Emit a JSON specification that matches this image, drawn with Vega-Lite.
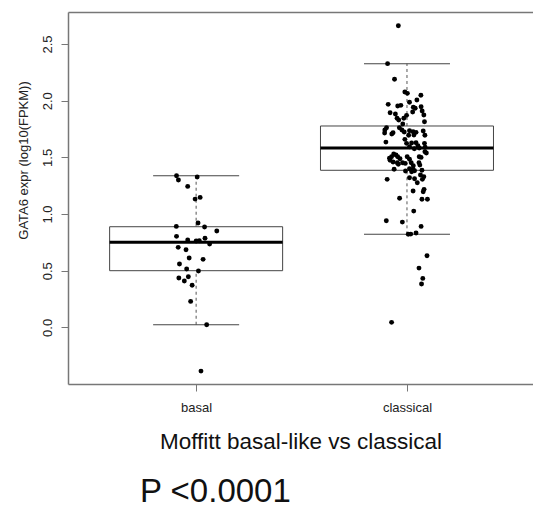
{
  "$schema": "https://vega.github.io/schema/vega-lite/v6.json",
  "width": 465,
  "height": 372,
  "autosize": {"type": "none"},
  "padding": {"left": 68, "top": 12, "right": 0, "bottom": 123},
  "background": "white",
  "title": {"text": "P <0.0001", "orient": "bottom", "anchor": "start", "frame": "group", "fontSize": 33, "font": "Liberation Sans", "fontWeight": "normal", "color": "#111", "baseline": "alphabetic", "offset": 49, "dx": 72},
  "config": {
    "view": {"stroke": null},
    "axis": {"grid": false, "labelFont": "Liberation Sans", "titleFont": "Liberation Sans", "labelFontSize": 13, "labelColor": "#222", "titleColor": "#222", "titleFontWeight": "normal", "tickColor": "#777", "domainColor": "#777", "domainWidth": 1.5, "tickWidth": 1, "tickSize": 7, "labelOverlap": false, "labelFlush": false}
  },
  "datasets": {
    "stats": [
      {"group": "basal", "pos": 1, "lo": 0.023, "q1": 0.500, "med": 0.750, "q3": 0.888, "hi": 1.338},
      {"group": "classical", "pos": 2, "lo": 0.821, "q1": 1.386, "med": 1.583, "q3": 1.777, "hi": 2.327}
    ],
    "pts": [
      {"group": "basal", "x": 0.907, "expr": 1.338},
      {"group": "basal", "x": 0.916, "expr": 1.300},
      {"group": "basal", "x": 1.005, "expr": 1.327},
      {"group": "basal", "x": 0.960, "expr": 1.244},
      {"group": "basal", "x": 0.995, "expr": 1.132},
      {"group": "basal", "x": 1.019, "expr": 1.147},
      {"group": "basal", "x": 1.009, "expr": 0.921},
      {"group": "basal", "x": 0.906, "expr": 0.891},
      {"group": "basal", "x": 1.040, "expr": 0.885},
      {"group": "basal", "x": 1.098, "expr": 0.850},
      {"group": "basal", "x": 0.907, "expr": 0.803},
      {"group": "basal", "x": 0.960, "expr": 0.771},
      {"group": "basal", "x": 1.000, "expr": 0.762},
      {"group": "basal", "x": 1.015, "expr": 0.764},
      {"group": "basal", "x": 1.042, "expr": 0.786},
      {"group": "basal", "x": 1.064, "expr": 0.735},
      {"group": "basal", "x": 0.915, "expr": 0.706},
      {"group": "basal", "x": 0.952, "expr": 0.685},
      {"group": "basal", "x": 0.967, "expr": 0.612},
      {"group": "basal", "x": 1.033, "expr": 0.600},
      {"group": "basal", "x": 0.921, "expr": 0.559},
      {"group": "basal", "x": 0.955, "expr": 0.515},
      {"group": "basal", "x": 1.011, "expr": 0.497},
      {"group": "basal", "x": 0.918, "expr": 0.435},
      {"group": "basal", "x": 0.944, "expr": 0.409},
      {"group": "basal", "x": 0.963, "expr": 0.447},
      {"group": "basal", "x": 0.981, "expr": 0.371},
      {"group": "basal", "x": 0.974, "expr": 0.229},
      {"group": "basal", "x": 1.050, "expr": 0.023},
      {"group": "basal", "x": 1.023, "expr": -0.386},
      {"group": "classical", "x": 1.959, "expr": 2.662},
      {"group": "classical", "x": 1.908, "expr": 2.327},
      {"group": "classical", "x": 1.941, "expr": 2.189},
      {"group": "classical", "x": 1.990, "expr": 2.077},
      {"group": "classical", "x": 2.002, "expr": 2.065},
      {"group": "classical", "x": 2.066, "expr": 2.048},
      {"group": "classical", "x": 2.047, "expr": 2.006},
      {"group": "classical", "x": 1.911, "expr": 1.968},
      {"group": "classical", "x": 1.956, "expr": 1.953},
      {"group": "classical", "x": 1.971, "expr": 1.959},
      {"group": "classical", "x": 2.012, "expr": 1.986},
      {"group": "classical", "x": 2.030, "expr": 1.942},
      {"group": "classical", "x": 2.067, "expr": 1.947},
      {"group": "classical", "x": 2.072, "expr": 1.909},
      {"group": "classical", "x": 2.080, "expr": 1.874},
      {"group": "classical", "x": 1.920, "expr": 1.894},
      {"group": "classical", "x": 1.945, "expr": 1.883},
      {"group": "classical", "x": 1.998, "expr": 1.871},
      {"group": "classical", "x": 1.985, "expr": 1.845},
      {"group": "classical", "x": 1.961, "expr": 1.830},
      {"group": "classical", "x": 1.953, "expr": 1.845},
      {"group": "classical", "x": 2.027, "expr": 1.900},
      {"group": "classical", "x": 2.039, "expr": 1.933},
      {"group": "classical", "x": 2.083, "expr": 1.815},
      {"group": "classical", "x": 1.980, "expr": 1.794},
      {"group": "classical", "x": 1.903, "expr": 1.762},
      {"group": "classical", "x": 1.895, "expr": 1.741},
      {"group": "classical", "x": 1.894, "expr": 1.715},
      {"group": "classical", "x": 1.934, "expr": 1.718},
      {"group": "classical", "x": 1.928, "expr": 1.706},
      {"group": "classical", "x": 1.964, "expr": 1.762},
      {"group": "classical", "x": 1.987, "expr": 1.724},
      {"group": "classical", "x": 1.976, "expr": 1.741},
      {"group": "classical", "x": 2.012, "expr": 1.735},
      {"group": "classical", "x": 2.029, "expr": 1.726},
      {"group": "classical", "x": 2.043, "expr": 1.721},
      {"group": "classical", "x": 2.033, "expr": 1.697},
      {"group": "classical", "x": 2.077, "expr": 1.733},
      {"group": "classical", "x": 2.085, "expr": 1.695},
      {"group": "classical", "x": 2.008, "expr": 1.695},
      {"group": "classical", "x": 1.990, "expr": 1.659},
      {"group": "classical", "x": 1.998, "expr": 1.624},
      {"group": "classical", "x": 1.900, "expr": 1.635},
      {"group": "classical", "x": 2.022, "expr": 1.627},
      {"group": "classical", "x": 2.043, "expr": 1.629},
      {"group": "classical", "x": 2.052, "expr": 1.603},
      {"group": "classical", "x": 2.083, "expr": 1.624},
      {"group": "classical", "x": 2.086, "expr": 1.589},
      {"group": "classical", "x": 2.012, "expr": 1.594},
      {"group": "classical", "x": 2.035, "expr": 1.576},
      {"group": "classical", "x": 2.058, "expr": 1.583},
      {"group": "classical", "x": 2.092, "expr": 1.538},
      {"group": "classical", "x": 2.085, "expr": 1.550},
      {"group": "classical", "x": 1.937, "expr": 1.530},
      {"group": "classical", "x": 1.927, "expr": 1.506},
      {"group": "classical", "x": 1.917, "expr": 1.492},
      {"group": "classical", "x": 1.948, "expr": 1.521},
      {"group": "classical", "x": 1.956, "expr": 1.506},
      {"group": "classical", "x": 1.967, "expr": 1.488},
      {"group": "classical", "x": 2.001, "expr": 1.506},
      {"group": "classical", "x": 2.012, "expr": 1.483},
      {"group": "classical", "x": 2.058, "expr": 1.506},
      {"group": "classical", "x": 2.067, "expr": 1.500},
      {"group": "classical", "x": 1.920, "expr": 1.474},
      {"group": "classical", "x": 1.934, "expr": 1.459},
      {"group": "classical", "x": 1.954, "expr": 1.453},
      {"group": "classical", "x": 1.959, "expr": 1.439},
      {"group": "classical", "x": 1.979, "expr": 1.453},
      {"group": "classical", "x": 1.992, "expr": 1.447},
      {"group": "classical", "x": 2.020, "expr": 1.453},
      {"group": "classical", "x": 2.030, "expr": 1.426},
      {"group": "classical", "x": 2.057, "expr": 1.453},
      {"group": "classical", "x": 2.061, "expr": 1.432},
      {"group": "classical", "x": 2.012, "expr": 1.400},
      {"group": "classical", "x": 2.029, "expr": 1.395},
      {"group": "classical", "x": 2.036, "expr": 1.382},
      {"group": "classical", "x": 2.022, "expr": 1.373},
      {"group": "classical", "x": 1.993, "expr": 1.380},
      {"group": "classical", "x": 1.939, "expr": 1.395},
      {"group": "classical", "x": 2.071, "expr": 1.386},
      {"group": "classical", "x": 2.064, "expr": 1.344},
      {"group": "classical", "x": 2.080, "expr": 1.329},
      {"group": "classical", "x": 2.073, "expr": 1.306},
      {"group": "classical", "x": 1.906, "expr": 1.306},
      {"group": "classical", "x": 2.012, "expr": 1.320},
      {"group": "classical", "x": 2.049, "expr": 1.276},
      {"group": "classical", "x": 2.036, "expr": 1.312},
      {"group": "classical", "x": 2.029, "expr": 1.203},
      {"group": "classical", "x": 2.081, "expr": 1.218},
      {"group": "classical", "x": 2.077, "expr": 1.197},
      {"group": "classical", "x": 2.071, "expr": 1.130},
      {"group": "classical", "x": 2.097, "expr": 1.130},
      {"group": "classical", "x": 1.965, "expr": 1.139},
      {"group": "classical", "x": 2.032, "expr": 1.026},
      {"group": "classical", "x": 1.902, "expr": 0.941},
      {"group": "classical", "x": 1.978, "expr": 0.929},
      {"group": "classical", "x": 2.067, "expr": 0.891},
      {"group": "classical", "x": 2.006, "expr": 0.821},
      {"group": "classical", "x": 2.018, "expr": 0.823},
      {"group": "classical", "x": 2.043, "expr": 0.832},
      {"group": "classical", "x": 2.095, "expr": 0.632},
      {"group": "classical", "x": 2.057, "expr": 0.523},
      {"group": "classical", "x": 2.075, "expr": 0.432},
      {"group": "classical", "x": 2.069, "expr": 0.382},
      {"group": "classical", "x": 1.927, "expr": 0.044}
    ]
  },
  "resolve": {"axis": {"x": "independent"}},
  "layer": [
    {
      "data": {"name": "stats"},
      "mark": {"type": "bar", "size": 173, "fill": "white", "stroke": "#444", "strokeWidth": 1},
      "encoding": {
        "x": {"field": "pos", "type": "quantitative", "scale": {"domain": [0.416, 2.574], "nice": false, "zero": false},
          "axis": {"orient": "bottom", "values": [1, 2], "labelExpr": "datum.value == 1 ? 'basal' : 'classical'", "labelPadding": 10, "title": "Moffitt basal-like vs classical", "titleFontSize": 22.5, "titleColor": "#111", "titleBaseline": "alphabetic", "titleY": 64}},
        "y": {"field": "q1", "type": "quantitative", "title": "GATA6 expr (log10(FPKM))", "scale": {"domain": [-0.5, 2.783], "nice": false, "zero": false},
          "axis": {"values": [0, 0.5, 1, 1.5, 2, 2.5], "format": ".1f", "labelAngle": -90, "labelAlign": "center", "labelBaseline": "alphabetic", "labelPadding": 10, "titleFontSize": 13, "titleColor": "#222", "titleAngle": -90, "titleAlign": "center", "titleBaseline": "alphabetic", "titleX": -41, "titleY": 148}},
        "y2": {"field": "q3"}
      }
    },
    {
      "data": {"name": "stats"},
      "mark": {"type": "rule", "color": "#555", "strokeWidth": 1, "strokeDash": [3, 3]},
      "encoding": {
        "x": {"field": "pos", "type": "quantitative", "scale": {"domain": [0.416, 2.574], "nice": false, "zero": false}, "axis": null},
        "y": {"field": "q3", "type": "quantitative", "title": "GATA6 expr (log10(FPKM))", "scale": {"domain": [-0.5, 2.783], "nice": false, "zero": false}},
        "y2": {"field": "hi"}
      }
    },
    {
      "data": {"name": "stats"},
      "mark": {"type": "rule", "color": "#555", "strokeWidth": 1, "strokeDash": [3, 3]},
      "encoding": {
        "x": {"field": "pos", "type": "quantitative", "scale": {"domain": [0.416, 2.574], "nice": false, "zero": false}, "axis": null},
        "y": {"field": "lo", "type": "quantitative", "title": "GATA6 expr (log10(FPKM))", "scale": {"domain": [-0.5, 2.783], "nice": false, "zero": false}},
        "y2": {"field": "q1"}
      }
    },
    {
      "data": {"name": "stats"},
      "mark": {"type": "tick", "orient": "horizontal", "color": "#444", "opacity": 1, "size": 86, "thickness": 1},
      "encoding": {
        "x": {"field": "pos", "type": "quantitative", "scale": {"domain": [0.416, 2.574], "nice": false, "zero": false}, "axis": null},
        "y": {"field": "hi", "type": "quantitative", "title": "GATA6 expr (log10(FPKM))", "scale": {"domain": [-0.5, 2.783], "nice": false, "zero": false}}
      }
    },
    {
      "data": {"name": "stats"},
      "mark": {"type": "tick", "orient": "horizontal", "color": "#444", "opacity": 1, "size": 86, "thickness": 1},
      "encoding": {
        "x": {"field": "pos", "type": "quantitative", "scale": {"domain": [0.416, 2.574], "nice": false, "zero": false}, "axis": null},
        "y": {"field": "lo", "type": "quantitative", "title": "GATA6 expr (log10(FPKM))", "scale": {"domain": [-0.5, 2.783], "nice": false, "zero": false}}
      }
    },
    {
      "data": {"name": "stats"},
      "mark": {"type": "tick", "orient": "horizontal", "color": "#000", "opacity": 1, "size": 173, "thickness": 3},
      "encoding": {
        "x": {"field": "pos", "type": "quantitative", "scale": {"domain": [0.416, 2.574], "nice": false, "zero": false}, "axis": null},
        "y": {"field": "med", "type": "quantitative", "title": "GATA6 expr (log10(FPKM))", "scale": {"domain": [-0.5, 2.783], "nice": false, "zero": false}}
      }
    },
    {
      "data": {"name": "pts"},
      "mark": {"type": "point", "filled": true, "color": "#000", "opacity": 1, "size": 24},
      "encoding": {
        "x": {"field": "x", "type": "quantitative", "scale": {"domain": [0.416, 2.574], "nice": false, "zero": false},
          "axis": {"orient": "top", "labels": false, "ticks": false, "title": null}},
        "y": {"field": "expr", "type": "quantitative", "title": "GATA6 expr (log10(FPKM))", "scale": {"domain": [-0.5, 2.783], "nice": false, "zero": false}}
      }
    }
  ]
}
